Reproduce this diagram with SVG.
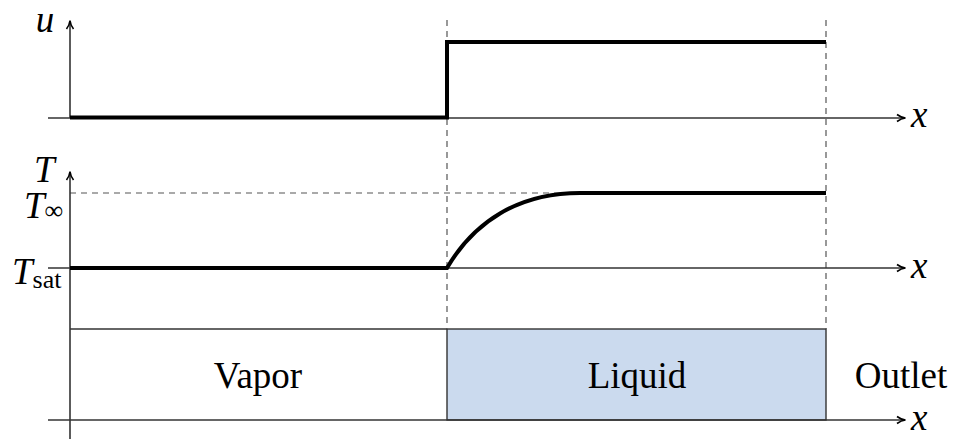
<svg xmlns="http://www.w3.org/2000/svg" width="954" height="439" viewBox="0 0 954 439">
<style>
.axis{stroke:#333;stroke-width:1.6;fill:none}
.thick{stroke:#000;stroke-width:4;fill:none;stroke-linejoin:miter}
.dash{stroke:#555;stroke-width:1.2;stroke-dasharray:6,5;fill:none}
text{font-family:'Liberation Serif','Times New Roman',serif;font-size:37px;fill:#000}
.it{font-style:italic}
</style>
<defs>
<marker id="ah" viewBox="0 0 10 10" refX="9" refY="5" markerWidth="10" markerHeight="10" markerUnits="userSpaceOnUse" orient="auto">
<path d="M1,1.5 Q5,4.5 9.5,5 Q5,5.5 1,8.5" fill="none" stroke="#000" stroke-width="1.6"/>
</marker>
</defs>
<g id="regions">
<rect id="vapor" x="70" y="329" width="377" height="91" fill="#fff"/>
<rect id="liquid" x="447" y="329" width="379" height="91" fill="#cbdaee" stroke="#333" stroke-width="1.4"/>
<line x1="70" y1="329" x2="447" y2="329" stroke="#333" stroke-width="1.4"/>
<text x="258" y="388" text-anchor="middle">Vapor</text>
<text x="637" y="388" text-anchor="middle">Liquid</text>
<text x="901" y="388" text-anchor="middle">Outlet</text>
</g>
<g id="connectors">
<line class="dash" x1="447" y1="20" x2="447" y2="329"/>
<line class="dash" x1="826" y1="20" x2="826" y2="329"/>
<line class="dash" x1="70" y1="193" x2="826" y2="193"/>
<line class="axis" x1="70" y1="118" x2="70" y2="21" marker-end="url(#ah)"/>
<line class="axis" x1="48" y1="118" x2="905" y2="118" marker-end="url(#ah)"/>
<line class="axis" x1="70" y1="439" x2="70" y2="172" marker-end="url(#ah)"/>
<line class="axis" x1="48" y1="268" x2="905" y2="268" marker-end="url(#ah)"/>
<line class="axis" x1="48" y1="420" x2="905" y2="420" marker-end="url(#ah)"/>
<path class="thick" d="M70,117.5 H447 V42 H826"/>
<path class="thick" d="M70,268 H447 C474,222 518,193 580,193 H826"/>
</g>
<g id="labels">
<text class="it" x="45" y="32" text-anchor="middle" font-size="34px">u</text>
<text class="it" x="911" y="127">x</text>
<text class="it" x="911" y="278">x</text>
<text class="it" x="911" y="430">x</text>
<text class="it" x="34" y="182">T</text>
<text x="24" y="218"><tspan class="it">T</tspan><tspan font-size="26px" dy="1">∞</tspan></text>
<text x="12" y="284"><tspan class="it">T</tspan><tspan font-size="26px" dy="4">sat</tspan></text>
</g>
</svg>
